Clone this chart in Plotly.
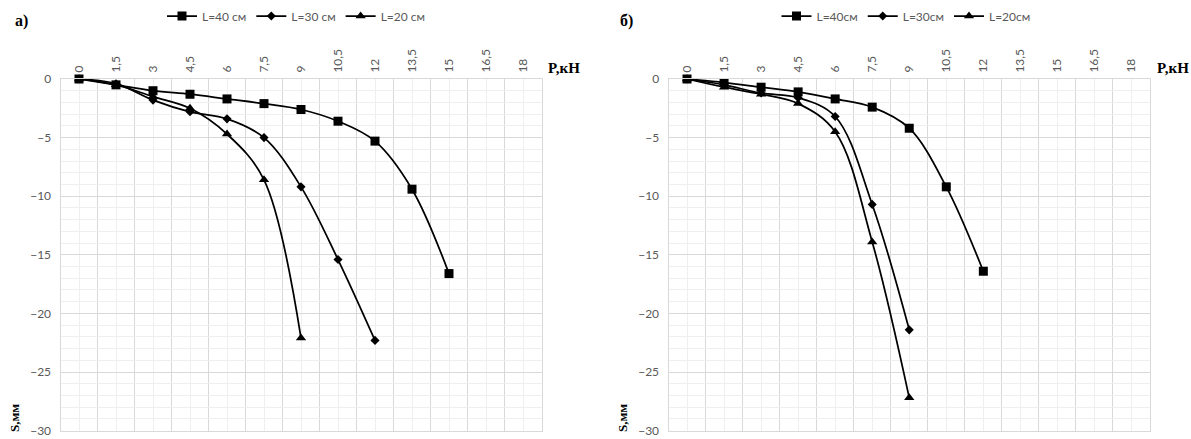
import plotly.graph_objects as go

# ---------------- data ----------------
p_ticks = [0, 1.5, 3, 4.5, 6, 7.5, 9, 10.5, 12, 13.5, 15, 16.5, 18]
p_tick_text = ["0", "1,5", "3", "4,5", "6", "7,5", "9", "10,5", "12", "13,5", "15", "16,5", "18"]
s_ticks = [0, -5, -10, -15, -20, -25, -30]

# panel а)
p_a_40 = [0, 1.5, 3, 4.5, 6, 7.5, 9, 10.5, 12, 13.5, 15]
s_a_40 = [0, -0.5, -1.0, -1.3, -1.7, -2.1, -2.6, -3.6, -5.3, -9.4, -16.6]
p_a_30 = [0, 1.5, 3, 4.5, 6, 7.5, 9, 10.5, 12]
s_a_30 = [0, -0.4, -1.8, -2.8, -3.4, -5.0, -9.2, -15.4, -22.3]
p_a_20 = [0, 1.5, 3, 4.5, 6, 7.5, 9]
s_a_20 = [0, -0.5, -1.5, -2.5, -4.7, -8.6, -22.1]

# panel б)
p_b_40 = [0, 1.5, 3, 4.5, 6, 7.5, 9, 10.5, 12]
s_b_40 = [0, -0.3, -0.7, -1.1, -1.7, -2.4, -4.2, -9.2, -16.4]
p_b_30 = [0, 1.5, 3, 4.5, 6, 7.5, 9]
s_b_30 = [0, -0.5, -1.2, -1.6, -3.2, -10.7, -21.4]
p_b_20 = [0, 1.5, 3, 4.5, 6, 7.5, 9]
s_b_20 = [0, -0.7, -1.3, -2.1, -4.5, -13.9, -27.2]

names_a = ["L=40 см", "L=30 см", "L=20 см"]
names_b = ["L=40см", "L=30см", "L=20см"]

# ---------------- styling ----------------
W, H = 1191, 439
TXT = "#595959"
MAJOR = "#d9d9d9"
MINOR = "#efefef"
SANS = "Lato, Open Sans, sans-serif"
SERIF = "Liberation Serif, Times New Roman, serif"

symbols = ["square", "diamond", "triangle-up"]
sizes = [9, 7, 9]

fig = go.Figure()

def add_series(px, sy, name, k, xa, ya, leg):
    fig.add_trace(go.Scatter(
        x=px, y=sy, name=name, mode="lines+markers", cliponaxis=False,
        line=dict(color="black", width=1.75, shape="spline", smoothing=1),
        marker=dict(symbol=symbols[k], size=sizes[k], color="black"),
        xaxis=xa, yaxis=ya, legend=leg, hoverinfo="skip"))

add_series(p_a_40, s_a_40, names_a[0], 0, "x", "y", "legend")
add_series(p_a_30, s_a_30, names_a[1], 1, "x", "y", "legend")
add_series(p_a_20, s_a_20, names_a[2], 2, "x", "y", "legend")
add_series(p_b_40, s_b_40, names_b[0], 0, "x2", "y2", "legend2")
add_series(p_b_30, s_b_30, names_b[1], 1, "x2", "y2", "legend2")
add_series(p_b_20, s_b_20, names_b[2], 2, "x2", "y2", "legend2")

x_bounds = [t - 0.75 for t in p_ticks] + [p_ticks[-1] + 0.75]

def xaxis(dom, anchor):
    return dict(domain=dom, anchor=anchor, side="top", range=[-0.75, 18.75],
                tickmode="array", tickvals=p_ticks, ticktext=p_tick_text,
                tickangle=-90, tickfont=dict(family=SANS, size=12, color=TXT),
                ticks="", ticklabelstandoff=3, ticklabeloverflow="allow",
                showgrid=True, gridcolor=MINOR, gridwidth=1, zeroline=False,
                minor=dict(tickmode="array", tickvals=x_bounds, showgrid=True,
                           gridcolor=MAJOR, gridwidth=1, ticks=""),
                showline=True, linecolor=MAJOR, linewidth=1, mirror=True,
                automargin=False, fixedrange=True)

def yaxis(anchor):
    return dict(domain=[1 - 431 / H, 1 - 79 / H], anchor=anchor, range=[-30.03, 0],
                tickmode="array", tickvals=s_ticks,
                tickfont=dict(family=SANS, size=12, color=TXT),
                ticks="", ticklabelstandoff=6, ticklabeloverflow="allow",
                showgrid=True, gridcolor=MAJOR, gridwidth=1, zeroline=False,
                minor=dict(dtick=1, showgrid=True, gridcolor=MINOR, gridwidth=1, ticks=""),
                showline=True, linecolor=MAJOR, linewidth=1, mirror=True,
                automargin=False, fixedrange=True)

leg_common = dict(orientation="h", yanchor="middle", y=1 - 16 / H, xanchor="center",
                  font=dict(family=SANS, size=12, color=TXT), bgcolor="rgba(0,0,0,0)",
                  itemclick=False, itemdoubleclick=False, tracegroupgap=0)

fig.update_layout(
    width=W, height=H, autosize=False,
    margin=dict(l=0, r=0, t=0, b=0),
    paper_bgcolor="white", plot_bgcolor="white",
    xaxis=xaxis([60.5 / W, 541.5 / W], "y"),
    yaxis=yaxis("x"),
    xaxis2=xaxis([668.5 / W, 1150 / W], "y2"),
    yaxis2=yaxis("x2"),
    legend=dict(x=296 / W, **leg_common),
    legend2=dict(x=906 / W, **leg_common),
    showlegend=True,
)

ann = []
def txt(x, y, s, size, angle=0, xanchor="center"):
    ann.append(dict(x=x / W, y=1 - y / H, xref="paper", yref="paper", text="<b>" + s + "</b>",
                    showarrow=False, textangle=angle, xanchor=xanchor, yanchor="middle",
                    font=dict(family=SERIF, size=size, color="black")))

txt(21, 21, "а)", 16)
txt(626, 21, "б)", 16)
txt(546, 68, "P,кН", 15, xanchor="left")
txt(1155, 68, "P,кН", 15, xanchor="left")
txt(14, 418, "S,мм", 13, angle=-90)
txt(622, 418, "S,мм", 13, angle=-90)
fig.update_layout(annotations=ann)

fig.write_html("out.html")
